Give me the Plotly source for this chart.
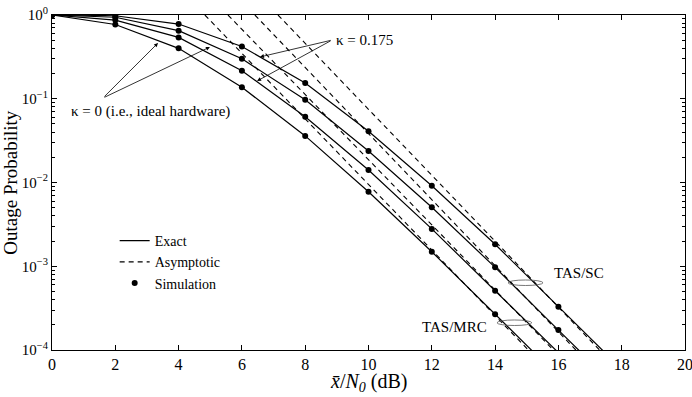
import plotly.graph_objects as go

# SNR grid (dB) of the simulation points
snr = [0, 2, 4, 6, 8, 10, 12, 14, 16, 18]

# outage probability
sc_k175 = [1.0, 0.98, 0.78, 0.42, 0.154, 0.041, 0.00916, 0.00183, 0.000329, 0.000059]
sc_k0 = [1.0, 0.94, 0.65, 0.30, 0.097, 0.0238, 0.00506, 0.00097, 0.000173, 0.000031]
mrc_k175 = [1.0, 0.87, 0.54, 0.216, 0.061, 0.0141, 0.00279, 0.00051, 0.000093]
mrc_k0 = [1.0, 0.77, 0.40, 0.137, 0.036, 0.00776, 0.00149, 0.000267, 0.000048]

# asymptotes: SNR where they hit 1 and 1e-4
asym_x_top = [7.14, 6.41, 5.56, 4.83]
asym_x_bottom = [17.30, 16.55, 15.84, 15.05]
asym_y = [1.0, 1e-4]

exact = [sc_k175, sc_k0, mrc_k175, mrc_k0]
# simulation points stop once below the axis
sim_count = [9, 9, 8, 8]

FONT = "Liberation Serif, Times New Roman, serif"

fig = go.Figure()

for i, curve in enumerate(exact):
    fig.add_trace(go.Scatter(
        x=snr[:len(curve)], y=curve, mode="lines",
        line=dict(color="black", width=1.2),
        name="Exact", legendgroup="exact", showlegend=(i == 0),
    ))

for i in range(4):
    fig.add_trace(go.Scatter(
        x=[asym_x_top[i], asym_x_bottom[i]], y=asym_y, mode="lines",
        line=dict(color="black", width=1.1, dash="5px,4px"),
        name="Asymptotic", legendgroup="asym", showlegend=(i == 0),
    ))

for i, curve in enumerate(exact):
    n = sim_count[i]
    fig.add_trace(go.Scatter(
        x=snr[:n], y=curve[:n], mode="markers",
        marker=dict(color="black", size=6),
        name="Simulation", legendgroup="sim", showlegend=(i == 0),
    ))

major = [1e-4, 1e-3, 1e-2, 1e-1, 1]
major_text = ["10<sup>\u22124</sup>", "10<sup>\u22123</sup>", "10<sup>\u22122</sup>",
              "10<sup>\u22121</sup>", "10<sup>0</sup>"]
minor = [k * 10.0 ** e for e in range(-4, 0) for k in range(2, 10)]

fig.update_xaxes(
    range=[0, 20], dtick=2, tick0=0, automargin=False,
    ticks="inside", ticklen=5, tickcolor="black", ticklabeloverflow="allow",
    showline=True, linecolor="black", linewidth=1, mirror="allticks",
    showgrid=False, zeroline=False,
    tickfont=dict(size=16),
)
fig.update_yaxes(
    type="log", range=[-4, 0], automargin=False,
    tickmode="array", tickvals=major, ticktext=major_text,
    ticks="inside", ticklen=5, tickcolor="black", ticklabeloverflow="allow",
    minor=dict(tickmode="array", tickvals=minor, ticks="inside", ticklen=3,
               tickcolor="black", showgrid=False),
    showline=True, linecolor="black", linewidth=1, mirror="allticks",
    showgrid=False, zeroline=False,
    tickfont=dict(size=15),
)

# axis titles
fig.add_annotation(x=0.5, y=-0.098, xref="paper", yref="paper", showarrow=False,
                   xanchor="center", yanchor="middle",
                   text="<i>x\u0304</i>/<i>N</i><sub><i>0</i></sub> (dB)",
                   font=dict(size=20))
fig.add_annotation(x=-0.066, y=0.5, xref="paper", yref="paper", showarrow=False,
                   xanchor="center", yanchor="middle",
                   textangle=-90, text="Outage Probability", font=dict(size=19))

arrow = dict(showarrow=True, arrowhead=2, arrowsize=1, arrowwidth=0.8, arrowcolor="black",
             axref="x", ayref="y", xref="x", yref="y", text="")
# kappa = 0 arrows
fig.add_annotation(x=3.35, y=-0.334, ax=1.61, ay=-0.991, **arrow)
fig.add_annotation(x=4.99, y=-0.382, ax=1.61, ay=-0.991, **arrow)
# kappa = 0.175 arrows
fig.add_annotation(x=6.57, y=-0.501, ax=8.85, ay=-0.299, **arrow)
fig.add_annotation(x=6.48, y=-0.788, ax=8.85, ay=-0.299, **arrow)

fig.add_annotation(x=3.10, y=-1.158, xref="x", yref="y", showarrow=False,
                   text="\u03ba = 0 (i.e., ideal hardware)", font=dict(size=15))
fig.add_annotation(x=8.91, y=-0.299, xref="x", yref="y", xanchor="left", showarrow=False,
                   text="\u03ba = 0.175", font=dict(size=15))
fig.add_annotation(x=15.80, y=-3.08, xref="x", yref="y", xanchor="left", showarrow=False,
                   text="TAS/SC", font=dict(size=15))
fig.add_annotation(x=11.63, y=-3.725, xref="x", yref="y", xanchor="left", showarrow=False,
                   text="TAS/MRC", font=dict(size=15))

ellipse = dict(type="circle", xref="paper", yref="paper", line=dict(color="#555", width=0.8))
fig.add_shape(x0=0.7204, x1=0.7757, y0=0.1925, y1=0.209, **ellipse)
fig.add_shape(x0=0.703, x1=0.758, y0=0.0731, y1=0.0896, **ellipse)

fig.update_layout(
    width=692, height=397,
    margin=dict(l=52, r=7, t=15, b=47),
    plot_bgcolor="white", paper_bgcolor="white",
    font=dict(family=FONT, color="black", size=15),
    legend=dict(x=0.099, y=0.373, xanchor="left", yanchor="top",
                bgcolor="rgba(0,0,0,0)", font=dict(size=14),
                tracegroupgap=0),
)

# drop the default 8px body margin so the figure fills the window
fig.write_html("out.html", config={"displayModeBar": False},
               post_script="document.body.style.margin = '0';")
